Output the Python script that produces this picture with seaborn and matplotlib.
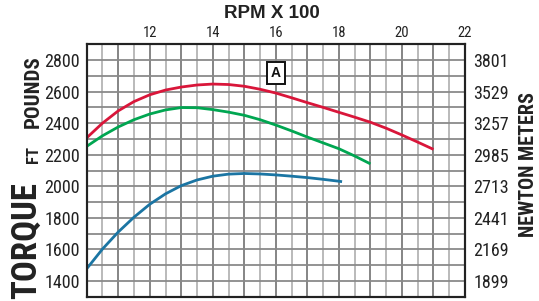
import matplotlib
matplotlib.use("Agg")
import matplotlib.pyplot as plt
import seaborn as sns
import pandas as pd
import numpy as np

# ---- data ----
rpm_a = [10, 10.5, 11, 11.5, 12, 12.5, 13, 13.5, 14, 14.5, 15, 15.5, 16, 16.5, 17,
         17.5, 18, 18.5, 19, 19.5, 20, 20.5, 21]
torque_a = [2307, 2400, 2478, 2537, 2580, 2610, 2629, 2642, 2648, 2645, 2634, 2615,
            2591, 2561, 2530, 2500, 2469, 2438, 2406, 2368, 2325, 2280, 2234]

rpm_b = [10, 10.5, 11, 11.5, 12, 12.5, 13, 13.5, 14, 14.5, 15, 15.5, 16, 16.5, 17,
         17.5, 18, 18.5, 19]
torque_b = [2253, 2320, 2376, 2422, 2458, 2484, 2499, 2498, 2486, 2470, 2450, 2422,
            2388, 2351, 2312, 2275, 2238, 2192, 2142]

rpm_c = [10, 10.5, 11, 11.5, 12, 12.5, 13, 13.5, 14, 14.5, 15, 15.5, 16, 16.5, 17,
         17.5, 18, 18.1]
torque_c = [1477, 1602, 1710, 1804, 1886, 1952, 2004, 2040, 2064, 2077, 2081, 2078,
            2072, 2064, 2055, 2044, 2032, 2029]

curve_names = ["red", "green", "blue"]
curve_colors = ["#d9163a", "#00a651", "#1b75a3"]

x_tick_labels = ["12", "14", "16", "18", "20", "22"]
y_left_labels = ["1400", "1600", "1800", "2000", "2200", "2400", "2600", "2800"]
y_right_labels = ["1899", "2169", "2441", "2713", "2985", "3257", "3529", "3801"]

marker_label = "A"
marker_rpm, marker_torque = 16.0, 2718

# ---- build frame ----
df = pd.concat([
    pd.DataFrame({"rpm": rpm_a, "torque": torque_a, "curve": curve_names[0]}),
    pd.DataFrame({"rpm": rpm_b, "torque": torque_b, "curve": curve_names[1]}),
    pd.DataFrame({"rpm": rpm_c, "torque": torque_c, "curve": curve_names[2]}),
], ignore_index=True)

sns.set_theme(style="white")
COND = ["Roboto Condensed", "DejaVu Sans"]
plt.rcParams["font.family"] = COND

W, H = 539, 301
fig = plt.figure(figsize=(W / 100, H / 100), dpi=100)
L, R, T, B = 86.7, 465.0, 44.3, 296.7
ax = fig.add_axes([L / W, 1 - B / H, (R - L) / W, (B - T) / H])

ax.set_xlim(10, 22)
ax.set_ylim(1300, 2900)

# grid
ax.set_xticks(np.arange(10, 22.01, 1.0))
ax.set_xticks(np.arange(10.5, 22, 1.0), minor=True)
ax.set_yticks(np.arange(1300, 2901, 100))
ax.grid(True, which="major", axis="x", color="#7c7c7c", lw=1.3)
ax.grid(True, which="minor", axis="x", color="#b4b4b4", lw=1.3)
ax.grid(True, which="major", axis="y", color="#8a8a8a", lw=1.3)
ax.set_axisbelow(True)

sns.lineplot(data=df, x="rpm", y="torque", hue="curve", palette=curve_colors,
             hue_order=curve_names, legend=False, lw=2.0, ax=ax, sort=False,
             estimator=None, solid_joinstyle="round", solid_capstyle="butt")

# top tick labels
ax.xaxis.tick_top()
xt = [int(v) for v in np.arange(10, 22.01, 1.0)]
ax.set_xticklabels([s if s in x_tick_labels else "" for s in map(str, xt)], fontsize=10.5)
ax.tick_params(axis="x", which="both", length=0, pad=3, colors="#222222")

# left tick labels
ax.set_yticklabels([s if s in y_left_labels else "" for s in
                    map(str, range(1300, 2901, 100))], fontsize=13)
ax.tick_params(axis="y", length=0, pad=5, colors="#222222")
ax.set_xlabel("")
ax.set_ylabel("")

# right axis
ax2 = ax.twinx()
ax2.set_ylim(1300, 2900)
ax2.set_yticks([int(s) for s in y_left_labels])
ax2.set_yticklabels(y_right_labels, fontsize=13)
ax2.tick_params(axis="y", length=0, pad=6, colors="#222222")
ax2.grid(False)

for a in (ax, ax2):
    for sp in a.spines.values():
        sp.set_color("#222222")
        sp.set_linewidth(1.5)

# boxed marker label
ax.text(marker_rpm, marker_torque, marker_label, fontsize=10, fontweight="bold",
        family=["Liberation Sans", "DejaVu Sans"], ha="center", va="center",
        color="#111111",
        bbox=dict(boxstyle="square,pad=0.3", fc="white", ec="#111111", lw=1.4))

# titles
fig.text(272 / W, 1 - 13.5 / H, "RPM X 100", fontsize=13.5, fontweight="bold",
         family=["Liberation Sans", "DejaVu Sans"], ha="center", va="center",
         color="#222222")
fig.text(42.5 / W, 1 - 299 / H, "TORQUE", fontsize=25, fontweight="bold",
         rotation=90, ha="right", va="bottom", color="#222222")
fig.text(41 / W, 1 - 163 / H, "FT", fontsize=12, fontweight="bold",
         rotation=90, ha="right", va="bottom", color="#222222")
fig.text(42.5 / W, 1 - 55 / H, "POUNDS", fontsize=15, fontweight="bold",
         rotation=90, ha="right", va="top", color="#222222")
fig.text(538 / W, 1 - 165 / H, "NEWTON METERS", fontsize=14.5, fontweight="bold",
         rotation=90, ha="right", va="center", color="#222222")

fig.savefig("out.png", dpi=100)
